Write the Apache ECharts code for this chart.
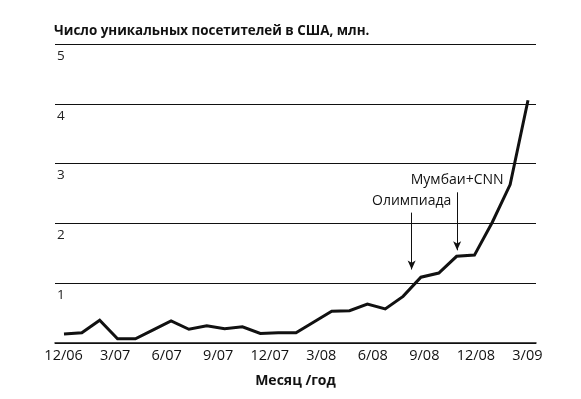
<!DOCTYPE html>
<html lang="ru">
<head>
<meta charset="UTF-8">
<title>Уникальные посетители</title>
<script src="https://cdn.jsdelivr.net/npm/echarts@6/dist/echarts.min.js"></script>
<style>
  html, body { margin: 0; padding: 0; background: #fff; }
  #chart { width: 581px; height: 399px; }
</style>
</head>
<body>
<div id="chart"></div>
<script>
// месяцы для оси (12/06 ... 3/09)
var months = ['12/06', '1/07', '2/07', '3/07', '4/07', '5/07', '6/07', '7/07', '8/07', '9/07',
    '10/07', '11/07', '12/07', '1/08', '2/08', '3/08', '4/08', '5/08', '6/08', '7/08',
    '8/08', '9/08', '10/08', '11/08', '12/08', '1/09', '2/09', '3/09'];

// посетители, млн
var visitors = [0.15, 0.17, 0.38, 0.07, 0.07, 0.22, 0.37, 0.23, 0.29, 0.24,
    0.27, 0.16, 0.17, 0.17, 0.35, 0.53, 0.54, 0.65, 0.57, 0.78,
    1.10, 1.17, 1.45, 1.47, 2.02, 2.65, 4.06];

var yTicks = [0, 1, 2, 3, 4, 5];

// подписи-стрелки: позиция по точкам ряда, от/до по оси y
var notes = ['Олимпиада', 'Мумбаи+CNN'];
var noteAt = [19.48, 22.03];
var noteFrom = [2.18, 2.52];
var noteTo = [1.23, 1.55];

var FONT = '"Open Sans", sans-serif';

var chart = echarts.init(document.getElementById('chart'));

var pts = visitors.map(function (v, i) { return [i, v]; });

var arrows = notes.map(function (t, i) {
    return [
        { coord: [noteAt[i], noteFrom[i]], name: t },
        { coord: [noteAt[i], noteTo[i]] }
    ];
});

var option = {
    animation: false,
    backgroundColor: '#fff',
    title: {
        text: 'Число уникальных посетителей в США, млн.',
        left: 49,
        top: 20,
        textStyle: { fontFamily: FONT, fontWeight: 'bold', fontSize: 13.4, color: '#111' }
    },
    grid: [
        { left: 55, right: 45, top: 44, bottom: 56 },
        { left: 64, right: 53, top: 44, bottom: 56 }
    ],
    xAxis: [
        {
            type: 'category',
            gridIndex: 0,
            data: months,
            boundaryGap: true,
            name: 'Месяц /год',
            nameLocation: 'middle',
            nameGap: 31,
            nameTextStyle: { fontFamily: FONT, fontWeight: 'bold', fontSize: 14, color: '#111' },
            axisLine: { lineStyle: { color: '#111', width: 1.5 } },
            axisTick: { inside: true, length: 9, interval: 0, alignWithLabel: true, lineStyle: { color: '#111', width: 1 } },
            axisLabel: { interval: 2, margin: 5, fontFamily: FONT, fontSize: 14.5, color: '#111' },
            splitLine: { show: false }
        },
        {
            type: 'value',
            gridIndex: 1,
            min: 0,
            max: visitors.length - 1,
            show: false
        }
    ],
    yAxis: [
        {
            type: 'value',
            gridIndex: 0,
            min: yTicks[0],
            max: yTicks[yTicks.length - 1],
            interval: 1,
            axisLine: { show: false },
            axisTick: { show: false },
            axisLabel: {
                inside: true,
                margin: 2,
                verticalAlign: 'top',
                padding: [5, 0, 0, 0],
                fontFamily: FONT,
                fontSize: 13.5,
                color: '#222',
                formatter: function (v) { return v === 0 ? '' : String(v); }
            },
            splitLine: { lineStyle: { color: '#111', width: 1 } }
        },
        {
            type: 'value',
            gridIndex: 1,
            min: yTicks[0],
            max: yTicks[yTicks.length - 1],
            show: false
        }
    ],
    series: [
        {
            type: 'line',
            xAxisIndex: 1,
            yAxisIndex: 1,
            data: pts,
            symbol: 'none',
            lineStyle: { color: '#111', width: 3, join: 'miter' },
            markLine: {
                silent: true,
                symbol: ['none', 'arrow'],
                symbolSize: [6, 9],
                lineStyle: { color: '#111', width: 1, type: 'solid' },
                label: {
                    show: true,
                    position: 'start',
                    distance: 5,
                    formatter: '{b}',
                    fontFamily: FONT,
                    fontSize: 14,
                    color: '#111'
                },
                data: arrows
            }
        }
    ]
};

chart.setOption(option);
</script>
</body>
</html>
